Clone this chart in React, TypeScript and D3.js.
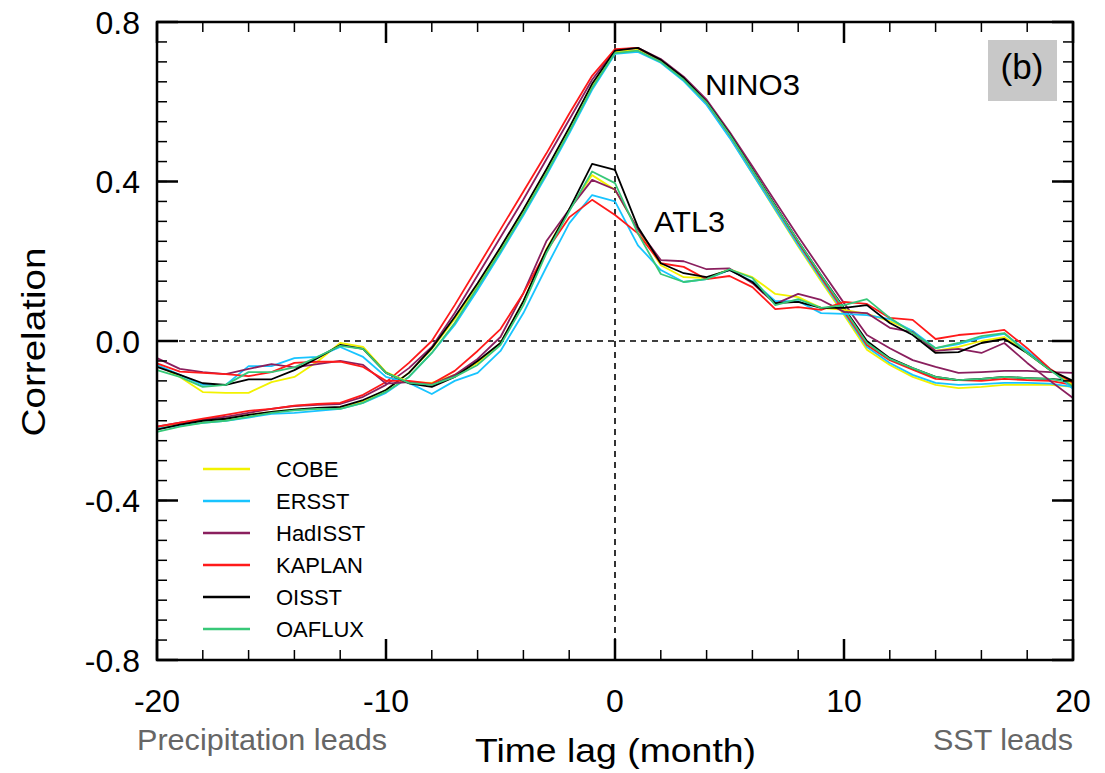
import React from "react";
import * as d3 from "d3";

const lags: number[] = d3.range(-20, 21);

const datasets = ["COBE", "ERSST", "HadISST", "KAPLAN", "OISST", "OAFLUX"];
const colors = ["#f2f200", "#18c4ff", "#8a1f5e", "#ff1a1a", "#000000", "#38c878"];

const ninoCOBE = [-0.22, -0.21, -0.2, -0.195, -0.185, -0.178, -0.172, -0.17, -0.168, -0.152, -0.123, -0.08, -0.02, 0.055, 0.14, 0.23, 0.325, 0.425, 0.53, 0.64, 0.725, 0.73, 0.7, 0.655, 0.595, 0.512, 0.42, 0.328, 0.237, 0.15, 0.065, -0.022, -0.06, -0.09, -0.11, -0.118, -0.115, -0.11, -0.11, -0.11, -0.115];
const ninoERSST = [-0.22, -0.212, -0.205, -0.2, -0.192, -0.183, -0.18, -0.175, -0.17, -0.155, -0.13, -0.09, -0.03, 0.04, 0.128, 0.22, 0.315, 0.415, 0.52, 0.63, 0.72, 0.725, 0.698, 0.652, 0.592, 0.51, 0.42, 0.33, 0.24, 0.155, 0.07, -0.015, -0.055, -0.085, -0.105, -0.11, -0.108, -0.105, -0.105, -0.107, -0.115];
const ninoHadISST = [-0.215, -0.205, -0.197, -0.19, -0.18, -0.17, -0.163, -0.16, -0.158, -0.14, -0.11, -0.068, -0.015, 0.07, 0.165, 0.26, 0.355, 0.455, 0.555, 0.655, 0.73, 0.735, 0.707, 0.663, 0.605, 0.525, 0.438, 0.35, 0.262, 0.178, 0.095, 0.015, -0.018, -0.048, -0.065, -0.08, -0.078, -0.075, -0.075, -0.078, -0.08];
const ninoKAPLAN = [-0.215, -0.205, -0.195, -0.185, -0.175, -0.17, -0.162, -0.158, -0.155, -0.135, -0.103, -0.055, 0.0, 0.09, 0.185, 0.28, 0.375, 0.47, 0.57, 0.665, 0.732, 0.735, 0.703, 0.657, 0.598, 0.518, 0.428, 0.337, 0.247, 0.16, 0.075, -0.01, -0.048, -0.072, -0.095, -0.098, -0.1, -0.095, -0.098, -0.1, -0.11];
const ninoOISST = [-0.222, -0.21, -0.2, -0.195, -0.185, -0.178, -0.172, -0.168, -0.165, -0.148, -0.123, -0.08, -0.018, 0.06, 0.145, 0.235, 0.33, 0.43, 0.535, 0.645, 0.728, 0.735, 0.705, 0.66, 0.6, 0.52, 0.43, 0.34, 0.25, 0.165, 0.083, 0.0, -0.043, -0.068, -0.09, -0.098, -0.095, -0.09, -0.093, -0.095, -0.1];
const ninoOAFLUX = [-0.228, -0.215, -0.205, -0.2, -0.19, -0.18, -0.174, -0.17, -0.17, -0.155, -0.127, -0.09, -0.03, 0.045, 0.135, 0.225, 0.32, 0.42, 0.525, 0.635, 0.722, 0.728, 0.7, 0.655, 0.598, 0.518, 0.428, 0.338, 0.25, 0.165, 0.08, -0.005, -0.045, -0.068, -0.09, -0.098, -0.095, -0.09, -0.093, -0.095, -0.105];

const atlCOBE = [-0.06, -0.09, -0.128, -0.13, -0.13, -0.103, -0.09, -0.052, -0.005, -0.015, -0.078, -0.103, -0.105, -0.085, -0.055, -0.005, 0.1, 0.23, 0.33, 0.416, 0.379, 0.28, 0.19, 0.16, 0.158, 0.18, 0.16, 0.118, 0.11, 0.083, 0.078, 0.068, 0.05, 0.025, -0.025, -0.015, 0.0, 0.01, -0.03, -0.073, -0.11];
const atlERSST = [-0.06, -0.085, -0.11, -0.11, -0.063, -0.063, -0.043, -0.04, -0.015, -0.04, -0.09, -0.105, -0.133, -0.1, -0.08, -0.025, 0.07, 0.185, 0.295, 0.366, 0.35, 0.24, 0.178, 0.148, 0.155, 0.178, 0.15, 0.1, 0.1, 0.07, 0.068, 0.065, 0.055, 0.025, -0.018, -0.008, 0.008, 0.018, -0.025, -0.07, -0.12];
const atlHadISST = [-0.043, -0.07, -0.078, -0.083, -0.07, -0.058, -0.066, -0.058, -0.05, -0.06, -0.107, -0.103, -0.11, -0.085, -0.045, 0.01, 0.12, 0.25, 0.33, 0.404, 0.38, 0.28, 0.203, 0.2, 0.18, 0.182, 0.145, 0.093, 0.118, 0.103, 0.073, 0.07, 0.033, 0.022, -0.025, -0.02, -0.03, -0.005, -0.055, -0.1, -0.143];
const atlKAPLAN = [-0.056, -0.077, -0.08, -0.083, -0.088, -0.078, -0.055, -0.052, -0.052, -0.065, -0.1, -0.1, -0.107, -0.075, -0.025, 0.03, 0.12, 0.225, 0.31, 0.354, 0.316, 0.27, 0.195, 0.186, 0.155, 0.163, 0.135, 0.08, 0.085, 0.078, 0.098, 0.093, 0.058, 0.053, 0.005, 0.015, 0.02, 0.028, -0.018, -0.07, -0.105];
const atlOISST = [-0.065, -0.085, -0.106, -0.11, -0.096, -0.096, -0.073, -0.043, -0.01, -0.02, -0.08, -0.106, -0.115, -0.09, -0.05, -0.005, 0.1, 0.228, 0.33, 0.444, 0.429, 0.286, 0.195, 0.17, 0.16, 0.178, 0.148, 0.095, 0.098, 0.083, 0.083, 0.09, 0.045, 0.015, -0.03, -0.028, -0.005, 0.005, -0.03, -0.073, -0.1];
const atlOAFLUX = [-0.073, -0.09, -0.115, -0.11, -0.078, -0.078, -0.066, -0.04, -0.012, -0.02, -0.08, -0.105, -0.11, -0.09, -0.06, -0.01, 0.09, 0.22, 0.325, 0.425, 0.396, 0.27, 0.168, 0.148, 0.155, 0.18, 0.158, 0.09, 0.105, 0.083, 0.09, 0.105, 0.058, 0.02, -0.018, -0.005, 0.012, 0.02, -0.03, -0.073, -0.115];

const ninoSeries = [ninoCOBE, ninoERSST, ninoHadISST, ninoKAPLAN, ninoOISST, ninoOAFLUX];
const atlSeries = [atlCOBE, atlERSST, atlHadISST, atlKAPLAN, atlOISST, atlOAFLUX];

const xMajor = [-20, -10, 0, 10, 20];
const xMinor = d3.range(-20, 21, 2);
const yMajor = [0.8, 0.4, 0.0, -0.4, -0.8];
const yMajorLabels = ["0.8", "0.4", "0.0", "-0.4", "-0.8"];
const yMinor = d3.range(-0.8, 0.8001, 0.05);

const L = 157, R = 1073, T = 22, B = 660;

export default function App() {
  const x = d3.scaleLinear().domain([-20, 20]).range([L, R]);
  const y = d3.scaleLinear().domain([-0.8, 0.8]).range([B, T]);
  const line = d3.line<number>().x((_, i) => x(lags[i])).y((d) => y(d));
  const font = "'Liberation Sans', Arial, Helvetica, sans-serif";
  const order = [0, 1, 2, 3, 4, 5];
  const adj = "spacingAndGlyphs";
  return (
    <svg width={1105} height={773} style={{ position: "absolute", left: 0, top: 0, background: "#fff" }} fontFamily={font}>
      <rect x={0} y={0} width={1105} height={773} fill="#fff" />
      {/* reference dashed lines */}
      <line x1={L} x2={R} y1={y(0)} y2={y(0)} stroke="#000" strokeWidth={1.6} strokeDasharray="6,5" />
      <line x1={x(0)} x2={x(0)} y1={T} y2={B} stroke="#000" strokeWidth={1.6} strokeDasharray="6,5" />
      {/* data */}
      {order.map((k) => (
        <path key={"n" + k} d={line(ninoSeries[k]) || ""} fill="none" stroke={colors[k]} strokeWidth={1.8} strokeLinejoin="round" />
      ))}
      {order.map((k) => (
        <path key={"a" + k} d={line(atlSeries[k]) || ""} fill="none" stroke={colors[k]} strokeWidth={1.8} strokeLinejoin="round" />
      ))}
      {/* ticks */}
      {xMinor.map((v) => (
        <g key={"xm" + v}>
          <line x1={x(v)} x2={x(v)} y1={B} y2={B - 10} stroke="#000" strokeWidth={1.5} />
          <line x1={x(v)} x2={x(v)} y1={T} y2={T + 10} stroke="#000" strokeWidth={1.5} />
        </g>
      ))}
      {xMajor.map((v) => (
        <g key={"xM" + v}>
          <line x1={x(v)} x2={x(v)} y1={B} y2={B - 21} stroke="#000" strokeWidth={2.5} />
          <line x1={x(v)} x2={x(v)} y1={T} y2={T + 21} stroke="#000" strokeWidth={2.5} />
          <text x={x(v)} y={712} textAnchor="middle" fontSize={32}>{v}</text>
        </g>
      ))}
      {yMinor.map((v, i) => (
        <g key={"ym" + i}>
          <line x1={L} x2={L + 10} y1={y(v)} y2={y(v)} stroke="#000" strokeWidth={1.5} />
          <line x1={R} x2={R - 10} y1={y(v)} y2={y(v)} stroke="#000" strokeWidth={1.5} />
        </g>
      ))}
      {yMajor.map((v, i) => (
        <g key={"yM" + i}>
          <line x1={L} x2={L + 21} y1={y(v)} y2={y(v)} stroke="#000" strokeWidth={2.5} />
          <line x1={R} x2={R - 21} y1={y(v)} y2={y(v)} stroke="#000" strokeWidth={2.5} />
          <text x={140} y={y(v) + 11.5} textAnchor="end" fontSize={32}>{yMajorLabels[i]}</text>
        </g>
      ))}
      <rect x={L} y={T} width={R - L} height={B - T} fill="none" stroke="#000" strokeWidth={2.5} />
      {/* labels */}
      <text transform={`translate(45,${342}) rotate(-90)`} textAnchor="middle" fontSize={34} textLength={189} lengthAdjust={adj}>Correlation</text>
      <text x={475} y={762} fontSize={34} textLength={281} lengthAdjust={adj}>Time lag (month)</text>
      <text x={137} y={750} fontSize={30} fill="#666666" textLength={250} lengthAdjust={adj}>Precipitation leads</text>
      <text x={933} y={750} fontSize={30} fill="#666666" textLength={140} lengthAdjust={adj}>SST leads</text>
      <text x={705} y={95} fontSize={30} textLength={95} lengthAdjust={adj}>NINO3</text>
      <text x={654} y={232} fontSize={30} textLength={71} lengthAdjust={adj}>ATL3</text>
      <rect x={988} y={40} width={69} height={61} fill="#c8c8c8" />
      <text x={1022} y={79} textAnchor="middle" fontSize={35}>(b)</text>
      {/* legend */}
      {datasets.map((name, i) => (
        <g key={name}>
          <line x1={203} x2={250} y1={469 + i * 32} y2={469 + i * 32} stroke={colors[i]} strokeWidth={2.6} />
          <text x={276} y={469 + i * 32 + 8} fontSize={22}>{name}</text>
        </g>
      ))}
    </svg>
  );
}
